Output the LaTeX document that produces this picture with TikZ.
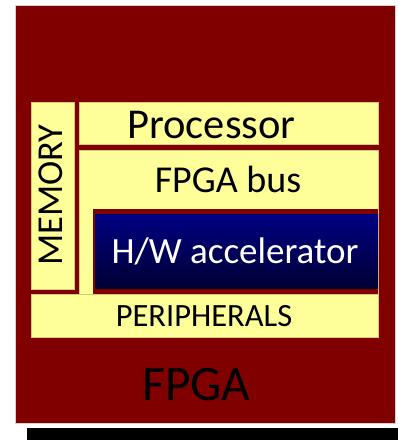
\documentclass[tikz,border=0pt]{standalone}
\usepackage{fontspec}
\setmainfont{Carlito}
\definecolor{fpgared}{RGB}{128,0,0}
\definecolor{padyellow}{RGB}{255,255,153}
\definecolor{padedge}{RGB}{215,200,120}
\definecolor{accblue}{RGB}{0,0,132}
\definecolor{accdark}{RGB}{0,0,52}
\tikzset{
  block/.style={fill=padyellow, draw=padedge, line width=0.4pt},
  blocktext/.style={anchor=base, inner sep=0pt, font=\fontsize{#1}{#1}\selectfont}
}
\begin{document}
\begin{tikzpicture}[x=1pt, y=-1pt]
    \useasboundingbox (0,0) rectangle (398,440);

    % FPGA chip
    \fill[fpgared] (15,5) rectangle (395,423);
    \draw[gray!35, line width=0.6pt] (15,5) rectangle (395,423);
    \fill[black] (27,428) rectangle (398,440);

    % blocks
    \fill[block] (31,102) rectangle (74,289);
    \fill[block] (79,102) rectangle (378,144);
    \fill[block] (79,150) rectangle (378,294);
    \fill[block] (31,294) rectangle (378,337);

    % H/W accelerator
    \fill[fpgared] (93,209) rectangle (378,294);
    \shade[top color=accblue, bottom color=accdark] (95,214) rectangle (378,288);

    % texts
    \node[blocktext=42.5] (proc) at (211.5,138) {Processor};
    \node[blocktext=38] (bus) at (228,192) {FPGA bus};
    \node[blocktext=37] (acc) at (235,263) [text=white] {H/W accelerator};
    \node[blocktext=36.5, rotate=90] (mem) at (63,195) {MEMORY};
    \node[blocktext=32.5] (periph) at (204,326) {PERIPHERALS};
    \node[blocktext=49.5] (fpga) at (196.5,400) {FPGA};
\end{tikzpicture}
\end{document}
